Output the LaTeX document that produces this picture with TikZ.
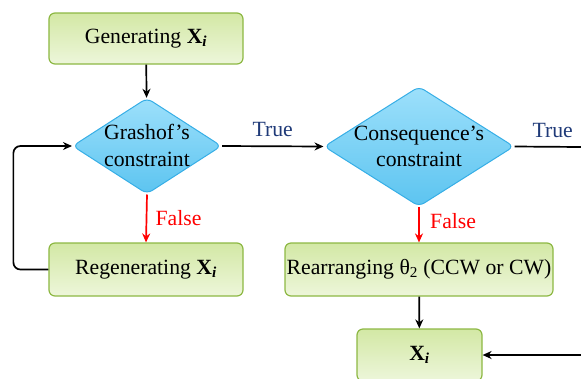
\documentclass[tikz,border=0pt]{standalone}
\usepackage{fontspec}
\setmainfont{Liberation Serif}
\usetikzlibrary{shapes.geometric,arrows.meta}
\definecolor{gfillA}{HTML}{D3E8A5}
\definecolor{gfillB}{HTML}{EDF6DA}
\definecolor{gborder}{HTML}{8DB843}
\definecolor{bfillA}{HTML}{9DE0FB}
\definecolor{bfillB}{HTML}{5CC4F0}
\definecolor{bborder}{HTML}{36AEE6}
\definecolor{navy}{HTML}{1F3A78}
\tikzset{
  gbox/.style={draw=gborder, line width=1.2bp, rounded corners=6bp,
    top color=gfillA, bottom color=gfillB, inner sep=1bp, align=center},
  dbox/.style={diamond, draw=bborder, line width=1bp, rounded corners=6bp,
    top color=bfillA, bottom color=bfillB, inner sep=0bp},
  dtext/.style={align=center, inner sep=0bp},
  arr/.style={line width=1.7bp, -{Stealth[length=9bp,width=8bp]}},
  plain/.style={line width=1.7bp}
}
\newcommand{\myXsub}{\textbf{X}\textsubscript{\textbf{\textit{i}}}}
\begin{document}
\begin{tikzpicture}[x=1bp,y=-1bp,font=\fontsize{21.8}{26.5}\selectfont]
\useasboundingbox (0,0) rectangle (581,378);
\node[gbox, minimum width=194bp, minimum height=51bp] (gen) at (146,38.5) {Generating \myXsub};
\node[dbox, minimum width=149bp, minimum height=96bp] (grash) at (147,146) {};
\node[dtext] (grashT) at (147,145.5) {Grashof’s\\constraint};
\node[dbox, minimum width=190bp, minimum height=120bp] (cons) at (419,146.5) {};
\node[dtext] (consT) at (419,146.5) {Consequence’s\\constraint};
\node[gbox, minimum width=194bp, minimum height=53bp] (regen) at (146,269.5) {Regenerating \myXsub};
\node[gbox, minimum width=268bp, minimum height=53bp] (rear) at (419,269.5) {Rearranging θ\textsubscript{2} (CCW or CW)};
\node[gbox, minimum width=125bp, minimum height=52bp] (xi) at (419.5,355) {\myXsub};
\coordinate (rE) at (581,147);
\coordinate (rB) at (581,355);
\draw[arr] (gen) -- (grash);
\draw[arr] (grash.east) -- node[above=5bp, text=navy] {True} (cons.west);
\draw[plain] (cons.east) -- node[above=5bp, text=navy, xshift=5bp] {True} (rE);
\draw[arr, red] (grash.south) -- node[right=5bp] {False} (regen.north);
\draw[arr, red] (cons.south) -- node[right=7bp, yshift=4bp] {False} (rear.north);
\draw[arr] (rear) -- (xi);
\draw[arr] (rB) -- (xi.east);
\draw[arr, rounded corners=7bp] (regen.west) -- ++(-35,0) |- (grash.west);
\end{tikzpicture}
\end{document}
